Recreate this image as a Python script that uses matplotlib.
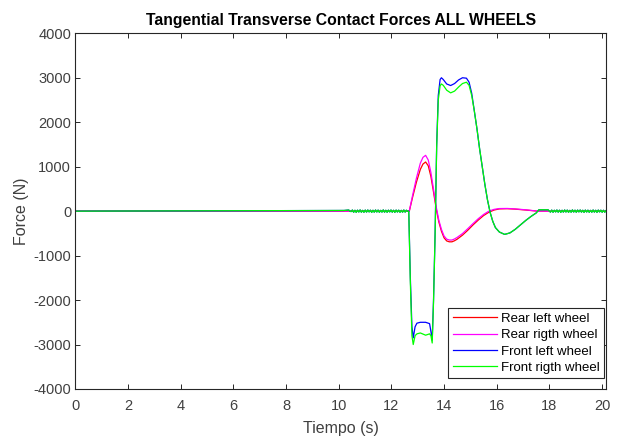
import numpy as np
import matplotlib.pyplot as plt

plt.rcParams['font.family'] = ['Liberation Sans', 'DejaVu Sans']
plt.rcParams['axes.unicode_minus'] = False

# Data
t_rear = [0, 12.68, 12.8, 12.95, 13.1, 13.2, 13.3, 13.4, 13.5, 13.6, 13.7, 13.8,
          13.9, 14.0, 14.1, 14.2, 14.3, 14.4, 14.5, 14.7, 14.9, 15.1, 15.3, 15.5,
          15.7, 15.9, 16.1, 16.4, 16.7, 17.1, 17.55, 20.15]
rear_left = [0, 0, 300, 650, 940, 1060, 1105, 1020, 780, 430, 60, -240,
             -450, -600, -670, -690, -690, -665, -630, -540, -430, -310, -200, -100,
             -25, 25, 50, 55, 45, 25, 0, 0]
rear_right = [0, 0, 340, 740, 1080, 1210, 1255, 1150, 870, 490, 100, -200,
              -410, -560, -630, -650, -650, -625, -590, -505, -395, -280, -170, -75,
              0, 40, 58, 60, 50, 30, 0, 0]

# small chatter of the front wheels before and after the manoeuvre
chatter_a = [-10, 25, -25, 20, -28, 22, -20, 28, -24, 18, -26, 24, -22, 26, -18,
             22, -28, 20, -24, 26, -20, 24, -26, 18, -22, 28, -24, 20, -26, 22,
             -18, 26, -24, 20, -28, 24, -20, 22, -26, 18, -24, 26, -22, 20, -5]
chatter_b = [5, -22, 24, -26, 20, -18, 26, -24, 22, -28, 20, -22, 26, -20, 24,
             -26, 18, -24, 28, -20, 22, -26, 24, -18, 26, -22, 20, -28, 24, -20,
             22, -26, 18, -24, 26, -22, 20, -28, 24, -18, 22, -26, 20, -24, 10]
t_chat_a = np.linspace(10.47, 12.62, len(chatter_a))
t_chat_b = np.linspace(17.99, 20.15, len(chatter_b))

t_pre = [0, 10.2, 10.38, 10.43]
front_pre = [0, 15, 25, 0]

t_move = [12.66, 12.72, 12.78, 12.83, 12.9, 12.97, 13.1, 13.3, 13.45, 13.5,
          13.55, 13.6, 13.66, 13.72, 13.78, 13.85, 13.9, 13.97, 14.1, 14.25,
          14.4, 14.55, 14.7, 14.85, 14.95, 15.05, 15.15, 15.25, 15.35, 15.45,
          15.55, 15.65, 15.75, 15.85, 15.95, 16.1, 16.3, 16.5, 16.7, 16.9,
          17.1, 17.3, 17.5, 17.56, 17.6, 17.95]
front_left_move = [0, -1500, -2600, -2850, -2600, -2520, -2500, -2500, -2530, -2700,
                   -2900, -2000, -500, 1500, 2600, 2960, 3000, 2960, 2860, 2825,
                   2870, 2950, 3000, 2990, 2900, 2650, 2250, 1850, 1400, 1000,
                   600, 250, -30, -230, -370, -470, -523, -490, -410, -310,
                   -210, -120, -40, 0, 30, 30]
front_right_move = [0, -1600, -2800, -3000, -2800, -2760, -2740, -2790, -2760, -2800,
                    -2966, -2050, -520, 1450, 2500, 2820, 2860, 2830, 2720, 2660,
                    2700, 2790, 2870, 2900, 2830, 2600, 2250, 1850, 1400, 1000,
                    600, 250, -30, -230, -370, -470, -523, -490, -410, -310,
                    -210, -120, -40, 0, 30, 30]

t_front = np.concatenate([t_pre, t_chat_a, t_move, t_chat_b])
front_left = np.concatenate([front_pre, chatter_a, front_left_move, chatter_b])
front_right = np.concatenate([front_pre, chatter_a, front_right_move, chatter_b])

labels = ['Rear left wheel', 'Rear rigth wheel', 'Front left wheel', 'Front rigth wheel']
colors = ['#ff0000', '#ff00ff', '#0000ff', '#00ff00']

fig = plt.figure(figsize=(6.21, 4.38), dpi=100)
ax = fig.add_axes([0.1213, 0.1119, 0.8546, 0.8121])

ax.plot(t_rear, rear_left, color=colors[0], lw=0.9, label=labels[0])
ax.plot(t_rear, rear_right, color=colors[1], lw=0.9, label=labels[1])
ax.plot(t_front, front_left, color=colors[2], lw=0.9, label=labels[2])
ax.plot(t_front, front_right, color=colors[3], lw=0.9, label=labels[3])

ax.set_xlim(0, 20.15)
ax.set_ylim(-4000, 4000)
ax.set_xticks(range(0, 21, 2))
ax.set_yticks(range(-4000, 4001, 1000))

gray = '#262626'
for s in ax.spines.values():
    s.set_color(gray)
    s.set_linewidth(0.8)
ax.tick_params(direction='in', length=3.6, width=0.7, colors=gray,
               labelcolor='#404040', labelsize=10.5, top=True, right=True)
ax.tick_params(axis='x', pad=7)
ax.tick_params(axis='y', pad=3)

ax.set_title('Tangential Transverse Contact Forces ALL WHEELS',
             fontsize=11.3, fontweight='bold', pad=6)
ax.set_xlabel('Tiempo (s)', fontsize=11.5, color='#404040', labelpad=6)
ax.set_ylabel('Force (N)', fontsize=11.5, color='#404040', labelpad=3)

leg = ax.legend(loc='lower right', bbox_to_anchor=(0.996, 0.03), fontsize=9.5,
                fancybox=False, framealpha=1, edgecolor=gray, handlelength=3.3,
                labelspacing=0.3, borderpad=0.35, handletextpad=0.3,
                borderaxespad=0)
leg.get_frame().set_linewidth(0.8)

fig.savefig('out.png', dpi=100)
